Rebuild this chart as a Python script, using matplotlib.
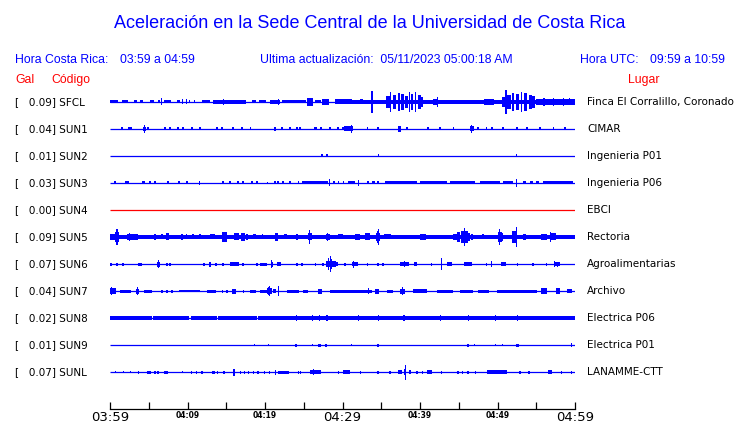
import matplotlib
matplotlib.use('Agg')
import matplotlib.pyplot as plt

# datos de las estaciones
codigos = ['SFCL', 'SUN1', 'SUN2', 'SUN3', 'SUN4', 'SUN5', 'SUN6', 'SUN7', 'SUN8', 'SUN9', 'SUNL']
gal = [0.09, 0.04, 0.01, 0.03, 0.00, 0.09, 0.07, 0.04, 0.02, 0.01, 0.07]
lugares = ['Finca El Corralillo, Coronado', 'CIMAR', 'Ingenieria P01', 'Ingenieria P06', 'EBCI',
           'Rectoria', 'Agroalimentarias', 'Archivo', 'Electrica P06', 'Electrica P01', 'LANAMME-CTT']
colores = ['blue', 'blue', 'blue', 'blue', 'red', 'blue', 'blue', 'blue', 'blue', 'blue', 'blue']

# eje de tiempo (minutos desde 03:59)
etiquetas = ['03:59', '04:09', '04:19', '04:29', '04:39', '04:49', '04:59']
grandes = ['03:59', '04:29', '04:59']

# envolvente de cada traza: (minuto, amplitud, duracion)
sfcl = [(0.4, 1.5, 0.7), (0.9, 1.5, 0.2), (1.9, 1.5, 0.8), (3.3, 1.5, 0.3), (4.1, 1.5, 0.4),
        (5.4, 1.5, 0.5), (6.3, 1.5, 0.2), (6.7, 3.5, 0.13), (7.4, 1.5, 0.9), (8.8, 1.5, 0.4),
        (9.3, 2.5, 0.13), (9.9, 2.5, 0.13), (10.3, 1.5, 0.15), (10.9, 1.5, 0.15), (12.4, 1.5, 1.0),
        (14.1, 2, 1.5), (14.6, 3, 0.13), (16.2, 1.8, 2.8), (18.6, 1.5, 0.6), (19.7, 1.5, 0.9),
        (21.3, 2, 1.3), (21.7, 3, 0.13), (23.7, 1.5, 3.1), (25.8, 4, 0.7), (26.8, 1.5, 0.8),
        (27.8, 3, 1.0), (30.1, 2.5, 2.2), (31.2, 2, 1.0), (32.4, 2.5, 0.4), (33.8, 11, 0.15),
        (34.7, 2, 1.8), (35.9, 6, 0.6), (36.2, 10, 0.15), (36.7, 7, 0.4), (37.3, 9, 0.15),
        (37.7, 8, 0.4), (38.2, 6, 0.4), (38.6, 10, 0.15), (39.0, 8, 0.3), (39.4, 10, 0.15),
        (39.9, 7, 0.4), (40.2, 5, 0.3), (40.9, 2, 1.3), (42.0, 3, 0.6), (42.2, 5, 0.13),
        (47.4, 2, 0.3), (48.9, 3, 1.2), (50.8, 5, 0.4), (51.1, 12, 0.15), (51.5, 7, 0.5),
        (52.0, 9, 0.3), (52.6, 8, 0.4), (53.1, 10, 0.2), (53.6, 9, 0.4), (54.2, 7, 0.4),
        (54.7, 6, 0.4), (57.5, 3, 5.0), (56.0, 4, 0.13), (57.2, 4, 0.13), (58.5, 4, 0.13),
        (59.3, 3.5, 0.13), (44.8, 2.2, 30.4)]
sun1 = [(1.5, 1.5, 0.25), (2.45, 1.5, 0.25), (2.7, 1.5, 0.25), (4.4, 2, 0.4), (4.4, 4, 0.13),
        (4.9, 1.5, 0.2), (7.1, 1.5, 0.25), (7.7, 1.5, 0.25), (8.8, 1.5, 0.25), (9.4, 1.5, 0.25),
        (10.6, 1.5, 0.25), (11.6, 1.5, 0.25), (13.8, 1.5, 0.2), (14.45, 1.5, 0.2), (15.9, 1.5, 0.2),
        (17.0, 1.5, 0.25), (18.1, 1.5, 0.2), (21.3, 2, 0.2), (22.2, 1.5, 0.2), (23.2, 1.5, 0.2),
        (24.1, 1.5, 0.2), (24.5, 1.5, 0.2), (26.5, 1.5, 0.3), (27.2, 1.5, 0.3), (28.4, 1.5, 0.2),
        (29.4, 1.5, 0.2), (30.3, 1.5, 0.8), (30.8, 2.5, 1.2), (31.2, 4, 0.13), (33.2, 1.5, 0.2),
        (34.6, 1.5, 0.2), (37.4, 3, 0.4), (38.3, 1.5, 0.25), (41.0, 1.5, 0.2), (42.6, 1.5, 0.2),
        (44.3, 1.5, 0.2), (46.7, 2.5, 0.6), (46.7, 4, 0.13), (47.5, 1.5, 0.2), (48.6, 1.5, 0.2),
        (49.3, 1.5, 0.2), (50.7, 1.5, 0.2), (52.5, 1.5, 0.2), (53.8, 1.5, 0.2), (55.5, 1.5, 0.2),
        (57.2, 1.5, 0.2), (58.7, 1.5, 0.2)]
sun2 = [(27.3, 1.5, 0.25), (27.96, 1.5, 0.25), (34.6, 1.5, 0.13), (52.5, 1.5, 0.13)]
sun3 = [(0.65, 1.5, 0.25), (2.2, 1.5, 0.5), (4.3, 1.5, 0.4), (5.2, 1.5, 0.25), (5.8, 1.5, 0.25),
        (7.5, 1.5, 0.25), (8.9, 1.5, 0.35), (9.9, 1.5, 0.25), (11.5, 2, 0.13), (14.6, 1.5, 0.2),
        (15.5, 1.5, 0.25), (16.5, 1.5, 0.25), (17.2, 1.5, 0.25), (18.3, 1.5, 0.25), (19.0, 1.5, 0.25),
        (20.3, 1, 0.2), (21.3, 1.5, 0.25), (21.7, 1.5, 0.2), (22.3, 1.5, 0.25), (23.2, 1.5, 0.25),
        (24.3, 1.5, 0.2), (26.45, 1.5, 3.3), (28.3, 3.5, 0.13), (28.9, 1.5, 0.2), (29.5, 1.5, 0.2),
        (30.1, 1.5, 0.2), (31.15, 1.5, 0.9), (32.1, 3, 0.13), (33.3, 1.5, 0.3), (34.0, 1.5, 0.4),
        (34.6, 1.5, 0.2), (37.55, 1.5, 4.1), (41.75, 1.5, 3.5), (45.5, 1.5, 3.2), (49.0, 1.5, 2.6),
        (51.35, 1.5, 1.3), (52.5, 4, 0.13), (53.5, 1.5, 0.4), (54.4, 1.5, 0.4), (55.2, 1.5, 0.4),
        (57.8, 1.5, 3.8)]
sun4 = []
sun5 = [(30.0, 2, 60.0), (0.3, 3, 0.6), (0.9, 5, 0.5), (0.9, 8, 0.15), (2.9, 3, 1.3), (2.5, 4, 0.13),
        (5.8, 3, 0.3), (6.7, 2.5, 0.3), (7.4, 3.5, 0.3), (9.3, 3, 0.25), (9.9, 2.5, 0.2),
        (10.7, 2.5, 0.2), (11.6, 2.5, 0.2), (13.2, 2.5, 0.6), (14.8, 5, 0.6), (14.6, 4, 0.13),
        (16.3, 3.5, 0.6), (17.2, 4, 0.5), (17.7, 3, 0.3), (18.6, 2.5, 0.4), (19.7, 2.5, 0.2),
        (21.5, 4, 0.3), (22.6, 2.5, 0.4), (24.1, 3, 0.25), (25.8, 3.5, 0.6), (25.8, 7, 0.13),
        (28.1, 3, 0.5), (28.1, 4, 0.13), (29.7, 2.5, 0.6), (31.9, 3, 0.6), (33.2, 3.5, 0.6),
        (34.6, 4, 0.6), (34.5, 6, 0.15), (34.6, 8, 0.13), (35.8, 2.5, 1.0), (40.4, 3, 0.8),
        (44.5, 3, 0.5), (45.0, 5, 0.4), (45.5, 6, 0.3), (45.8, 9, 0.13), (46.0, 6, 0.4),
        (46.3, 4, 0.3), (46.7, 3, 0.2), (48.1, 2.5, 0.3), (50.3, 5, 0.5), (50.2, 8, 0.13),
        (50.6, 4, 0.3), (52.2, 6, 0.6), (52.4, 10, 0.15), (53.5, 3, 0.3), (56.0, 2.8, 0.7),
        (57.2, 3.5, 0.6), (56.8, 5, 0.13)]
sun6 = [(0.13, 1.5, 0.25), (0.9, 1.5, 0.25), (1.7, 1.5, 0.25), (3.9, 1.5, 0.5), (6.3, 2.5, 0.4),
        (6.3, 4, 0.13), (7.35, 1.5, 0.2), (7.74, 1.5, 0.2), (12.1, 1.5, 0.25), (12.9, 2.5, 0.25),
        (13.7, 1.5, 0.2), (14.6, 1.5, 0.25), (16.1, 1.8, 1.2), (17.2, 1.5, 0.25), (19.0, 1.5, 0.2),
        (19.8, 1.5, 0.9), (20.9, 2.5, 0.3), (20.9, 4, 0.13), (21.8, 2, 0.6), (24.1, 1.5, 0.25),
        (24.8, 1.5, 0.25), (26.5, 1.5, 0.2), (27.5, 1.5, 0.2), (28.5, 3, 1.2), (28.2, 6, 0.15),
        (28.4, 8, 0.13), (28.6, 5, 0.15), (29.2, 2, 0.4), (30.3, 1.5, 0.2), (31.6, 2, 0.7),
        (31.4, 3.5, 0.13), (33.2, 1.5, 0.2), (34.6, 1.5, 0.2), (35.2, 1.5, 0.2), (38.0, 2, 1.2),
        (38.0, 3, 0.13), (39.4, 2, 0.4), (41.5, 1.5, 0.2), (42.8, 6, 0.13), (43.8, 1.8, 0.6),
        (46.2, 1.8, 1.1), (48.6, 1.5, 0.2), (49.2, 3, 0.13), (50.8, 1.8, 0.7), (52.6, 1.5, 0.2),
        (54.6, 1.5, 0.2), (56.3, 1.5, 0.2), (57.7, 1.8, 0.7), (57.4, 3, 0.13), (57.8, 2.5, 0.13)]
sun7 = [(0.4, 3, 0.8), (0.2, 4, 0.13), (2.0, 1.5, 1.5), (3.6, 2.5, 0.4), (3.6, 4, 0.13),
        (4.9, 1.5, 1.0), (6.7, 1.5, 0.2), (7.35, 1.5, 0.2), (8.0, 1.5, 0.2), (10.2, 1.2, 2.7),
        (13.1, 1.5, 1.2), (14.5, 1.5, 0.2), (15.1, 1.5, 0.2), (16.0, 2.5, 0.4), (17.2, 1.5, 0.2),
        (18.5, 1.5, 0.8), (19.8, 1.5, 0.8), (20.6, 3, 0.6), (20.6, 5, 0.13), (20.4, 4, 0.15),
        (21.2, 2, 0.4), (21.8, 5, 0.13), (23.6, 1.5, 1.6), (25.2, 1.5, 0.7), (27.1, 2.5, 0.4),
        (30.0, 1.5, 3.2), (32.7, 1.5, 2.2), (33.3, 3, 0.13), (34.5, 2.5, 0.5), (36.1, 1.5, 0.8),
        (37.7, 2.5, 0.6), (37.7, 4, 0.13), (40.0, 2.2, 1.8), (43.2, 1.5, 2.1), (46.0, 1.5, 1.6),
        (48.2, 1.5, 1.5), (52.5, 1.5, 5.2), (56.0, 3, 0.7), (57.8, 3, 0.5), (59.3, 2, 0.7)]
sun8 = [(2.68, 2.2, 5.35), (7.88, 2.2, 4.75), (12.1, 2.2, 3.4), (16.48, 2.2, 5.05), (39.58, 2.2, 40.85),
        (24.1, 3, 0.13), (26.1, 3, 0.13), (27.0, 3, 0.13), (27.9, 3, 0.13), (28.1, 3, 0.13),
        (32.1, 3, 0.13), (34.6, 3, 0.13), (37.9, 3, 0.2), (42.6, 3, 0.13), (46.2, 3, 0.13),
        (49.7, 3, 0.13), (52.6, 3, 0.2)]
sun9 = [(18.7, 1, 0.13), (20.4, 1.2, 0.13), (24.0, 1.5, 0.3), (26.1, 1, 0.13), (27.0, 1.5, 0.4),
        (27.9, 1.5, 0.2), (31.2, 1, 0.13), (34.6, 1.5, 0.3), (46.2, 1.5, 0.3), (47.0, 1, 0.13),
        (49.7, 1, 0.13), (50.7, 1, 0.13), (52.6, 1.5, 0.3), (59.6, 2, 0.13)]
sunl = [(0.7, 1, 0.13), (1.8, 1, 0.13), (2.6, 1, 0.13), (3.7, 1.5, 0.2), (5.0, 1.5, 0.5),
        (5.8, 1.5, 0.15), (6.2, 1.5, 0.15), (7.25, 1.5, 0.5), (9.4, 1, 0.15), (10.5, 1.5, 0.2),
        (11.2, 1.5, 0.15), (11.9, 1.5, 0.2), (13.3, 1.5, 0.4), (13.9, 1.5, 0.15), (14.7, 1.5, 0.15),
        (16.0, 2, 0.3), (16.0, 3.5, 0.13), (16.8, 1.5, 0.15), (17.4, 1.5, 0.15), (17.9, 1.5, 0.15),
        (18.5, 1.5, 0.2), (19.1, 1.5, 0.15), (19.9, 1.5, 0.15), (20.6, 1.5, 0.15), (21.4, 2.5, 0.13),
        (22.4, 1.5, 1.4), (24.3, 1.5, 0.15), (24.6, 1.5, 0.15), (26.5, 2, 1.5), (26.3, 3, 0.13),
        (29.5, 1.5, 0.15), (30.5, 1.8, 0.9), (32.3, 1.5, 0.15), (34.6, 1.5, 0.2), (36.1, 1.5, 0.2),
        (37.4, 1.8, 0.5), (38.1, 3, 0.3), (38.1, 7.5, 0.13), (38.7, 2, 0.2), (39.6, 1.5, 0.2),
        (40.3, 1.5, 0.2), (41.2, 2, 0.6), (42.8, 1.5, 0.15), (44.9, 1.5, 0.15), (45.5, 1.5, 0.15),
        (46.2, 1.5, 0.15), (47.2, 1.5, 0.15), (49.9, 2, 2.6), (52.9, 1.5, 0.2), (54.1, 1.5, 0.3),
        (56.8, 1.8, 0.5), (58.3, 1.5, 0.15), (59.6, 1.5, 0.15)]
trazas = [sfcl, sun1, sun2, sun3, sun4, sun5, sun6, sun7, sun8, sun9, sunl]

W, H = 740, 423
escala = 27.0  # px por fila


def fx(x):
    return x / W


def fy(y):
    return 1 - y / H


fig = plt.figure(figsize=(W / 100, H / 100), dpi=100)
ax = fig.add_axes([fx(110), fy(409), fx(575) - fx(110), (409 - 89) / H])

for i, (ev, col) in enumerate(zip(trazas, colores)):
    ax.hlines(i, 0, 60, color=col, lw=0.9)
    if ev:
        t = [e[0] for e in ev]
        a = [e[1] / escala for e in ev]
        d = [e[2] for e in ev]
        ax.bar(t, [2 * v for v in a], width=d, bottom=[i - v for v in a],
               color=col, linewidth=0)

ax.set_xlim(0, 60)
ax.set_ylim((409 - 102) / escala, (89 - 102) / escala)
for s in ['top', 'left', 'right']:
    ax.spines[s].set_visible(False)
ax.spines['bottom'].set_linewidth(0.9)
ax.set_yticks([])
ax.set_xticks(range(0, 61, 10))
ax.set_xticks(range(5, 60, 10), minor=True)
ax.set_xticklabels(etiquetas)
ax.tick_params(axis='x', which='both', direction='in', length=5.2, width=0.9, pad=1.5)
for lbl in ax.get_xticklabels():
    if lbl.get_text() in grandes:
        lbl.set_fontsize(9.5)
    else:
        lbl.set_fontsize(5.5)
        lbl.set_fontweight('bold')

hdr = 'Liberation Sans'
fig.text(0.5, fy(23), 'Aceleración en la Sede Central de la Universidad de Costa Rica',
         ha='center', va='center', color='blue', fontsize=13, family=hdr)
fig.text(fx(15), fy(60), 'Hora Costa Rica:', ha='left', va='center', color='blue', fontsize=8.8, family=hdr)
fig.text(fx(120), fy(60), '03:59 a 04:59', ha='left', va='center', color='blue', fontsize=8.8, family=hdr)
fig.text(fx(260), fy(60), 'Ultima actualización:  05/11/2023 05:00:18 AM', ha='left', va='center',
         color='blue', fontsize=8.8, family=hdr)
fig.text(fx(580), fy(60), 'Hora UTC:', ha='left', va='center', color='blue', fontsize=8.8, family=hdr)
fig.text(fx(650), fy(60), '09:59 a 10:59', ha='left', va='center', color='blue', fontsize=8.8, family=hdr)
fig.text(fx(15), fy(80), 'Gal', ha='left', va='center', color='red', fontsize=8.8, family=hdr)
fig.text(fx(51), fy(80), 'Código', ha='left', va='center', color='red', fontsize=8.8, family=hdr)
fig.text(fx(628), fy(80), 'Lugar', ha='left', va='center', color='red', fontsize=8.8, family=hdr)

for i in range(len(codigos)):
    y = 102 + escala * i
    fig.text(fx(15), fy(y), '[   %.2f] %s' % (gal[i], codigos[i]), ha='left', va='center',
             fontsize=7.5, color='black')
    fig.text(fx(587), fy(y), lugares[i], ha='left', va='center', fontsize=7.5, color='black')

fig.savefig('out.png', dpi=100)
